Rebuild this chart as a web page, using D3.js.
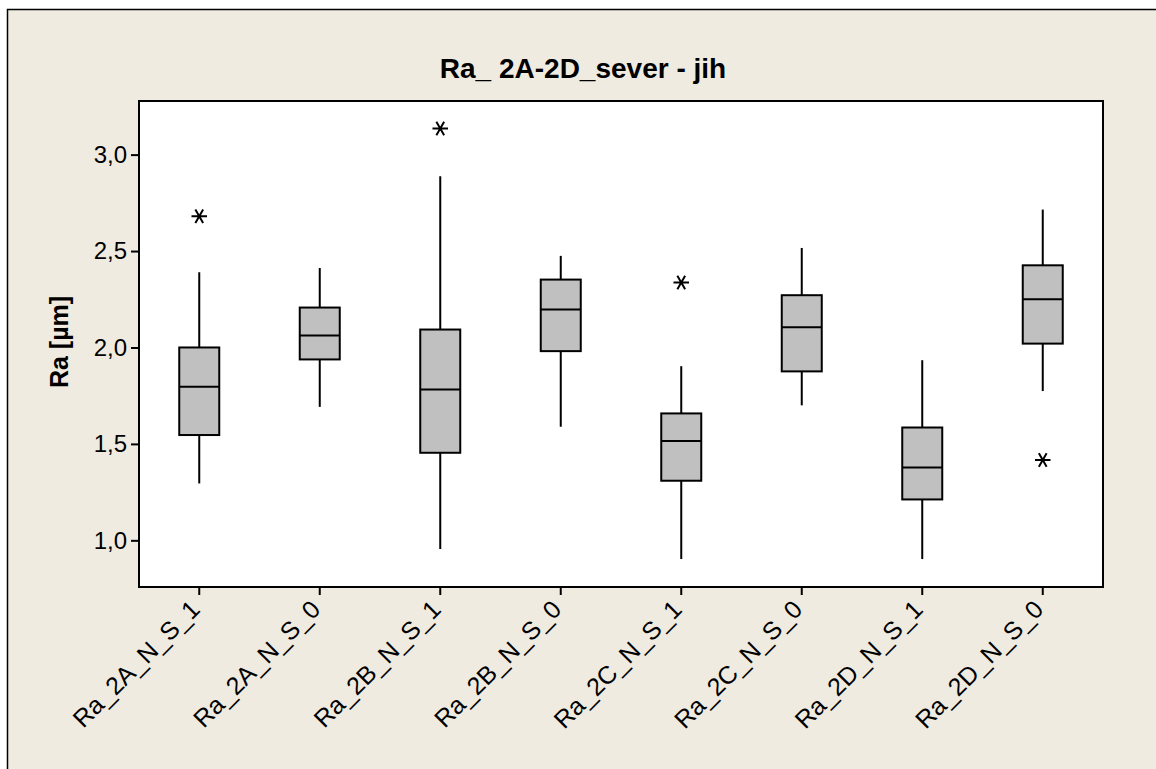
<!DOCTYPE html>
<html>
<head>
<meta charset="utf-8">
<script src="https://cdn.jsdelivr.net/npm/d3@7"></script>
<style>
  body { margin: 0; background: #fff; }
  svg { display: block; font-family: Arial, "Liberation Sans", sans-serif; }
</style>
</head>
<body>
<div id="chart"></div>
<script>
// data
const categories = ["Ra_2A_N_S_1", "Ra_2A_N_S_0", "Ra_2B_N_S_1", "Ra_2B_N_S_0",
                    "Ra_2C_N_S_1", "Ra_2C_N_S_0", "Ra_2D_N_S_1", "Ra_2D_N_S_0"];
const whiskerLow  = [1.295, 1.692, 0.955, 1.589, 0.903, 1.700, 0.903, 1.774];
const q1          = [1.546, 1.938, 1.454, 1.981, 1.309, 1.876, 1.212, 2.020];
const median      = [1.796, 2.062, 1.782, 2.197, 1.515, 2.105, 1.378, 2.250];
const q3          = [2.000, 2.207, 2.093, 2.352, 1.658, 2.271, 1.585, 2.426];
const whiskerHigh = [2.390, 2.412, 2.888, 2.475, 1.903, 2.516, 1.934, 2.715];
const outliers    = [[2.68], [], [3.135], [], [2.337], [], [], [1.416]];
const yTicks = [1.0, 1.5, 2.0, 2.5, 3.0];

const W = 1156, H = 769;
const margin = { TOP: 101, BOTTOM: 182, LEFT: 139, RIGHT: 53 };
const w = W - margin.LEFT - margin.RIGHT;
const h = H - margin.TOP - margin.BOTTOM;

const svg = d3.select("#chart").append("svg")
  .attr("width", W)
  .attr("height", H);

// outer frame
svg.append("rect")
  .attr("x", 7.5).attr("y", 9.5)
  .attr("width", W + 10).attr("height", H + 10)
  .attr("fill", "#efebe1")
  .attr("stroke", "#000")
  .attr("stroke-width", 1.5);

const g = svg.append("g")
  .attr("transform", `translate(${margin.LEFT}, ${margin.TOP})`);

g.append("rect")
  .attr("width", w).attr("height", h)
  .attr("fill", "#fff");

const xScale = d3.scaleBand()
  .domain(categories)
  .range([0, w]);

const yScale = d3.scaleLinear()
  .domain([0.758, 3.278])
  .range([h, 0]);

const fmt = d => d3.format(".1f")(d).replace(".", ",");

// y axis
const yAxisGroup = g.append("g")
  .call(d3.axisLeft(yScale).tickValues(yTicks).tickFormat(fmt).tickSize(8).tickSizeOuter(0));
yAxisGroup.select(".domain").remove();
yAxisGroup.selectAll(".tick line").attr("stroke-width", 2);
yAxisGroup.selectAll(".tick text")
  .attr("x", -12)
  .style("font-size", "24px")
  .attr("fill", "#000");

// x axis
const xAxisGroup = g.append("g")
  .attr("transform", `translate(0, ${h})`)
  .call(d3.axisBottom(xScale).tickSize(8).tickSizeOuter(0));
xAxisGroup.select(".domain").remove();
xAxisGroup.selectAll(".tick line").attr("stroke-width", 2);
xAxisGroup.selectAll(".tick text")
  .style("font-size", "25px")
  .attr("fill", "#000")
  .attr("text-anchor", "end")
  .attr("dy", null)
  .attr("transform", "translate(2, 24) rotate(-45)")
  .attr("x", 0).attr("y", 0);

// whiskers
const boxW = 40;
const idx = d3.range(categories.length);
const cx = i => xScale(categories[i]) + xScale.bandwidth() / 2;

g.selectAll(".whisker")
  .data(idx)
  .enter()
  .append("line")
  .attr("class", "whisker")
  .attr("x1", cx).attr("x2", cx)
  .attr("y1", i => yScale(whiskerLow[i]))
  .attr("y2", i => yScale(whiskerHigh[i]))
  .attr("stroke", "#000")
  .attr("stroke-width", 2);

// boxes
g.selectAll(".box")
  .data(idx)
  .enter()
  .append("rect")
  .attr("class", "box")
  .attr("x", i => cx(i) - boxW / 2)
  .attr("y", i => yScale(q3[i]))
  .attr("width", boxW)
  .attr("height", i => yScale(q1[i]) - yScale(q3[i]))
  .attr("fill", "#c0c0c0")
  .attr("stroke", "#000")
  .attr("stroke-width", 2);

// medians
g.selectAll(".median")
  .data(idx)
  .enter()
  .append("line")
  .attr("class", "median")
  .attr("x1", i => cx(i) - boxW / 2)
  .attr("x2", i => cx(i) + boxW / 2)
  .attr("y1", i => yScale(median[i]))
  .attr("y2", i => yScale(median[i]))
  .attr("stroke", "#000")
  .attr("stroke-width", 2);

// outliers
const outPts = [];
outliers.forEach((arr, i) => arr.forEach(v => outPts.push({ i: i, v: v })));
g.selectAll(".outlier")
  .data(outPts)
  .enter()
  .append("path")
  .attr("class", "outlier")
  .attr("d", d3.symbol().type(d3.symbolAsterisk).size(170))
  .attr("transform", d => `translate(${cx(d.i)}, ${yScale(d.v)}) rotate(90)`)
  .attr("fill", "none")
  .attr("stroke", "#000")
  .attr("stroke-width", 2);

// plot frame
g.append("rect")
  .attr("width", w).attr("height", h)
  .attr("fill", "none")
  .attr("stroke", "#000")
  .attr("stroke-width", 2);

// title
svg.append("text")
  .attr("x", 583)
  .attr("y", 78)
  .attr("text-anchor", "middle")
  .style("font-size", "28px")
  .style("font-weight", "bold")
  .text("Ra_ 2A-2D_sever - jih");

// y label
svg.append("text")
  .attr("transform", `translate(68, ${margin.TOP + h / 2 - 2}) rotate(-90)`)
  .attr("text-anchor", "middle")
  .style("font-size", "25px")
  .style("font-weight", "bold")
  .text("Ra [µm]");
</script>
</body>
</html>
